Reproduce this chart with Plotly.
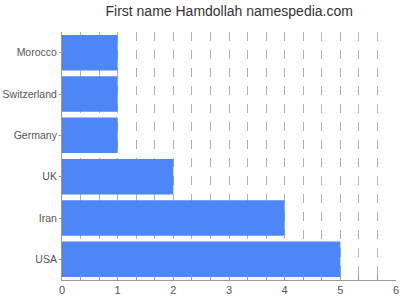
import plotly.graph_objects as go

countries = ["USA", "Iran", "UK", "Germany", "Switzerland", "Morocco"]
values = [5, 4, 2, 1, 1, 1]
x_ticks = [0, 1, 2, 3, 4, 5, 6]

fig = go.Figure(go.Bar(
    x=values, y=countries, orientation="h",
    marker=dict(color="#4d86f7", line=dict(width=0)),
    width=0.86,
))

fig.update_layout(
    width=400, height=300,
    margin=dict(l=62, r=4, t=32, b=20),
    paper_bgcolor="white", plot_bgcolor="white",
    title=dict(text="First name Hamdollah namespedia.com", x=0.573, xanchor="center",
               y=0.962, yanchor="middle",
               font=dict(family="Liberation Sans", size=14, color="#333333")),
    font=dict(family="Liberation Sans", size=11, color="#555555"),
    showlegend=False,
    bargap=0.14,
)
fig.update_xaxes(
    range=[0, 6], tickvals=x_ticks, ticktext=[str(t) for t in x_ticks],
    showgrid=True, gridcolor="#b0b0b0", griddash="dash", gridwidth=1,
    minor=dict(dtick=1/3, tick0=0, showgrid=True, gridcolor="#b0b0b0", griddash="dash",
               ticks="inside", ticklen=5, tickcolor="#999999"),
    ticks="inside", ticklen=5, tickcolor="#999999",
    showline=True, linecolor="#999999", linewidth=1,
    zeroline=False, fixedrange=True, automargin=False,
)
fig.update_yaxes(
    showgrid=False, showline=True, linecolor="#999999", linewidth=1,
    ticks="outside", ticklen=2, tickcolor="#999999", ticklabelstandoff=0,
    tickfont=dict(size=10.5),
    automargin=False,
)
fig.write_html("out.html")
